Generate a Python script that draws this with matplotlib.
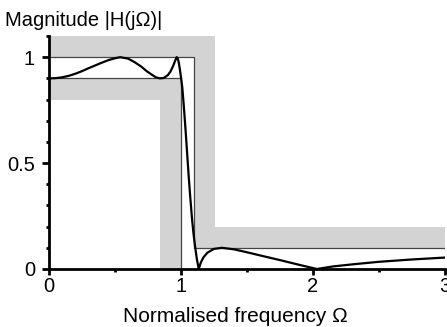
import matplotlib
matplotlib.use("Agg")
import matplotlib.pyplot as plt
from matplotlib.ticker import MultipleLocator

plt.rcParams["font.family"] = ["Liberation Sans", "DejaVu Sans"]

# magnitude response
omega = [0.0, 0.05, 0.1, 0.15, 0.2, 0.25, 0.3, 0.35, 0.4, 0.45, 0.5, 0.54,
         0.6, 0.65, 0.7, 0.74, 0.78, 0.81, 0.84, 0.87, 0.9, 0.92, 0.94, 0.955,
         0.967, 0.975, 0.983, 0.99, 1.0, 1.01, 1.02, 1.033, 1.045, 1.058, 1.07,
         1.083, 1.095, 1.108, 1.12, 1.134, 1.15, 1.17, 1.2, 1.25, 1.31, 1.4,
         1.5, 1.6, 1.75, 1.9, 2.03, 2.15, 2.3, 2.5, 2.75, 3.0]
mag = [0.9, 0.901, 0.905, 0.912, 0.922, 0.934, 0.948, 0.961, 0.974, 0.986, 0.995, 1.0,
       0.993, 0.976, 0.955, 0.934, 0.917, 0.905, 0.9, 0.902, 0.915, 0.932, 0.958, 0.982,
       1.0, 0.995, 0.975, 0.948, 0.905, 0.855, 0.78, 0.67, 0.56, 0.44, 0.34,
       0.24, 0.165, 0.1, 0.048, 0.0, 0.03, 0.055, 0.077, 0.095, 0.1, 0.093,
       0.079, 0.064, 0.042, 0.019, 0.0, 0.012, 0.022, 0.034, 0.045, 0.054]

# specification (tolerance scheme)
pass_edge, stop_edge = 1.0, 1.1
ripple_lo, stop_lvl = 0.9, 0.1
band_x, band_y = 0.16, 0.1
y_top, x_end = 1.1, 3.0

upper_x = [0, stop_edge, stop_edge, x_end, x_end, stop_edge + band_x, stop_edge + band_x, 0]
upper_y = [1, 1, stop_lvl, stop_lvl, stop_lvl + band_y, stop_lvl + band_y, y_top, y_top]
lower_x = [0, pass_edge - band_x, pass_edge - band_x, pass_edge, pass_edge, 0]
lower_y = [ripple_lo - band_y, ripple_lo - band_y, 0, 0, ripple_lo, ripple_lo]

fig = plt.figure(figsize=(4.47, 3.27), dpi=100)
ax = fig.add_axes([49 / 447, 58 / 327, 396 / 447, 233 / 327])

grey = "#d3d3d3"
ax.fill(upper_x, upper_y, color=grey, lw=0, zorder=1)
ax.fill(lower_x, lower_y, color=grey, lw=0, zorder=1)
ax.plot([0, stop_edge, stop_edge, x_end], [1, 1, stop_lvl, stop_lvl],
        color="#444444", lw=0.9, zorder=2)
ax.plot([0, pass_edge, pass_edge], [ripple_lo, ripple_lo, 0],
        color="#444444", lw=0.9, zorder=2)
ax.plot(omega, mag, color="black", lw=1.6, zorder=3)

ax.set_xlim(0, x_end)
ax.set_ylim(0, y_top)
for s in ("top", "right"):
    ax.spines[s].set_visible(False)
for s in ("left", "bottom"):
    ax.spines[s].set_linewidth(2.0)
    ax.spines[s].set_zorder(4)

ax.xaxis.set_minor_locator(MultipleLocator(0.5))
ax.yaxis.set_minor_locator(MultipleLocator(0.1))
ax.set_yticks([0, 0.5, 1], ["0", "0.5", "1"])
ax.set_xticks([0, 1, 2, 3], ["0", "1", "2", "3"])
ax.tick_params(which="major", length=4, width=2, labelsize=14.5, pad=2)
ax.tick_params(axis="y", which="major", length=5, pad=5)
ax.tick_params(which="minor", length=2, width=2)

ax.set_xlabel("Normalised frequency Ω", fontsize=15, labelpad=8)
ax.xaxis.label.set_x(0.47)
fig.text(5 / 447, 1 - 20 / 327, "Magnitude |H(jΩ)|", fontsize=14.5, va="center", ha="left")

fig.savefig("out.png", dpi=100)
